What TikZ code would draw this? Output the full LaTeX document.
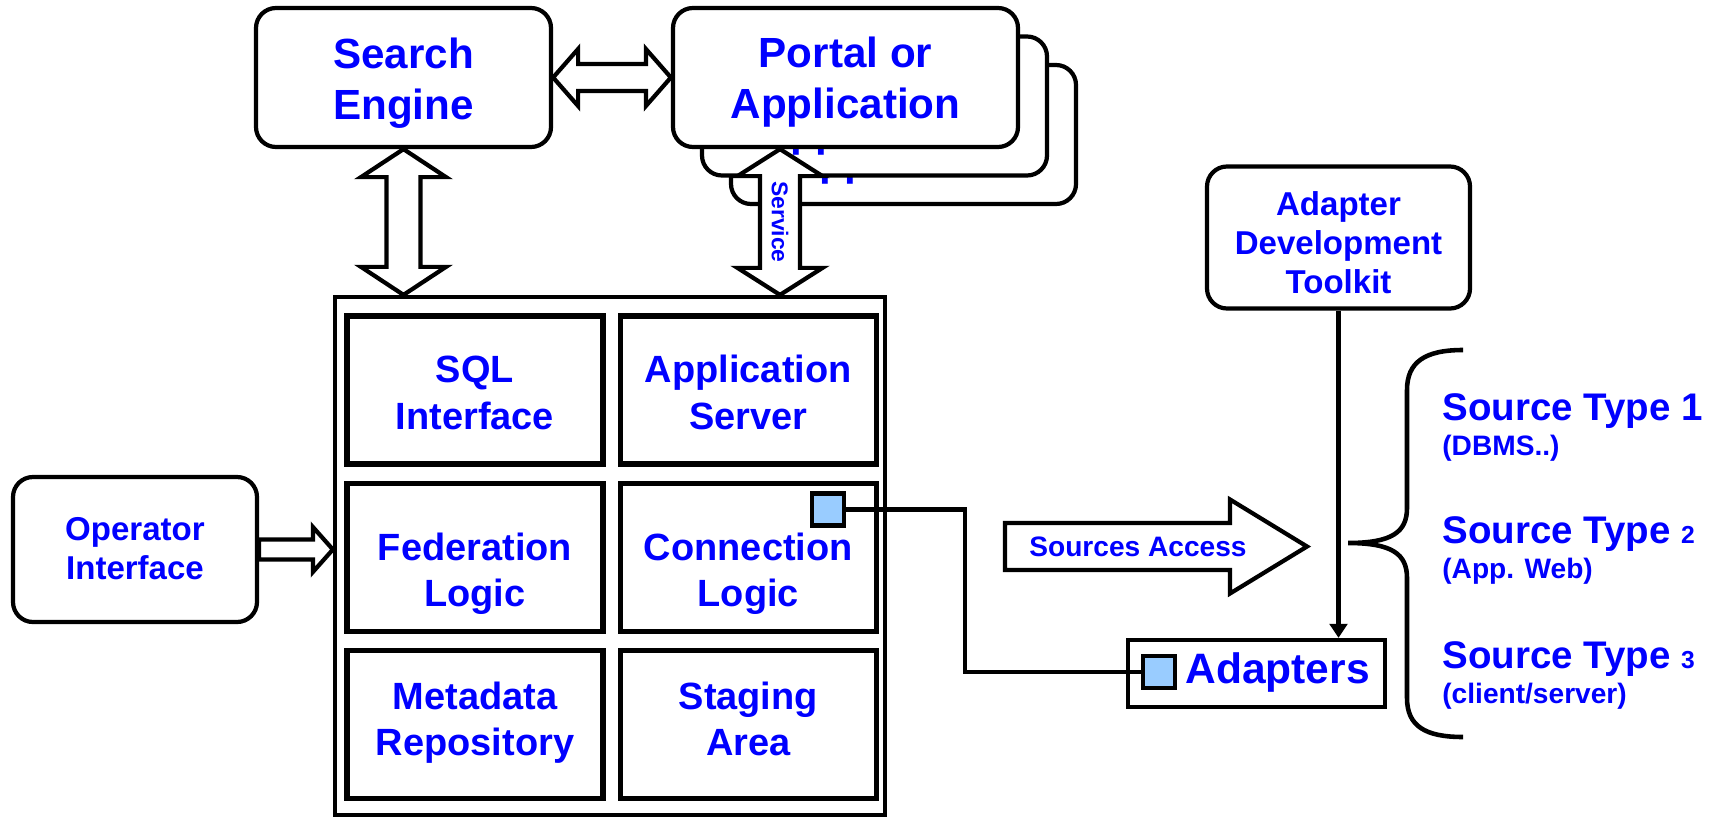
\documentclass[tikz,border=0pt]{standalone}
\usepackage{fontspec}
\setmainfont{Liberation Sans}
\usepackage{tikz}
\usetikzlibrary{
  positioning,
  calc,
  arrows.meta
}
\definecolor{labelblue}{RGB}{0,0,255}
\definecolor{portblue}{RGB}{153,204,255}

\newcommand{\boxfont}{\fontsize{24}{29}\selectfont\bfseries}
\newcommand{\cellfont}{\fontsize{21.6}{26.2}\selectfont\bfseries}
\newcommand{\smallboxfont}{\fontsize{18.8}{22.5}\selectfont\bfseries}
\newcommand{\kitfont}{\fontsize{18.8}{22.4}\selectfont\bfseries}
\newcommand{\adapterfont}{\fontsize{24.2}{29}\selectfont\bfseries}
\newcommand{\servicefont}{\fontsize{13}{15}\selectfont\bfseries}
\newcommand{\notefont}{\fontsize{16}{19}\selectfont\bfseries}
\newcommand{\srcfont}{\fontsize{21.9}{26}\selectfont\bfseries}

\tikzstyle{lastline}=[text height=#1, text depth=0pt]
\tikzstyle{roundbox}=[draw, line width=2.4pt, rounded corners=0.4cm, fill=white, inner sep=0pt, align=center, text=labelblue]
\tikzstyle{cell}=[draw, line width=3pt, minimum width=5.12cm, minimum height=2.96cm, inner sep=0pt, align=center, text=labelblue, font=\cellfont, lastline=44.4pt]
\tikzstyle{blockarrow}=[draw, line width=2.4pt, fill=white, line join=miter]
\tikzstyle{port}=[draw, line width=2.4pt, fill=portblue, minimum size=0.64cm, inner sep=0pt]
\tikzstyle{link}=[line width=2.6pt]
\tikzstyle{srctext}=[anchor=base west, inner sep=0pt, text=labelblue]

% 縦の両矢印 (上の先端, 下の先端, 軸の半幅, 頭の半幅, 頭の長さ)
\newcommand{\vdoublearrow}[5]{%
  \draw[blockarrow] (#1) -- ([shift={(#4,#5)}]#1) -- ([shift={(#3,#5)}]#1)
    -- ([shift={(#3,-#5)}]#2) -- ([shift={(#4,-#5)}]#2) -- (#2)
    -- ([shift={(-#4,-#5)}]#2) -- ([shift={(-#3,-#5)}]#2)
    -- ([shift={(-#3,#5)}]#1) -- ([shift={(-#4,#5)}]#1) -- cycle;}
% 横の両矢印 (左の先端, 右の先端, 軸の半幅, 頭の半幅, 頭の長さ)
\newcommand{\hdoublearrow}[5]{%
  \draw[blockarrow] (#1) -- ([shift={(#5,-#4)}]#1) -- ([shift={(#5,-#3)}]#1)
    -- ([shift={(-#5,-#3)}]#2) -- ([shift={(-#5,-#4)}]#2) -- (#2)
    -- ([shift={(-#5,#4)}]#2) -- ([shift={(-#5,#3)}]#2)
    -- ([shift={(#5,#3)}]#1) -- ([shift={(#5,#4)}]#1) -- cycle;}
% 右向きの矢印 (根元, 先端, 軸の半幅, 頭の半幅, 頭の長さ)
\newcommand{\rightblockarrow}[5]{%
  \draw[blockarrow] ([shift={(0,-#3)}]#1) -- ([shift={(-#5,-#3)}]#2)
    -- ([shift={(-#5,-#4)}]#2) -- (#2) -- ([shift={(-#5,#4)}]#2)
    -- ([shift={(-#5,#3)}]#2) -- ([shift={(0,#3)}]#1) -- cycle;}

\begin{document}
\begin{tikzpicture}[x=0.2mm, y=-0.2mm]
    \useasboundingbox (0,0) rectangle (1713,818);

    % 検索エンジン
    \node[roundbox, minimum width=5.9cm, minimum height=2.78cm, font=\boxfont, lastline=48pt] (search) at (403.5,77.5) {Search\\Engine};

    % ポータル (重ねた3枚)
    \coordinate (portalpos) at (845.5,77.5);
    \foreach \k in {2,1}
      \node[roundbox, minimum width=6.9cm, minimum height=2.78cm, font=\boxfont, lastline=46.5pt] (portal\k) at ([shift={({29*\k},{28.5*\k})}]portalpos) {Portal or\\Application};
    \node[roundbox, minimum width=6.9cm, minimum height=2.78cm, font=\boxfont, lastline=46.5pt] (portal) at (portalpos) {Portal or\\Application};

    % 本体の枠
    \node[draw, line width=2.4pt, minimum width=11cm, minimum height=10.36cm, inner sep=0pt] (main) at (610,556) {};

    % 内部のセル
    \node[cell] (sql) at (475,390) {SQL\\Interface};
    \node[cell, right=0.24cm of sql] (appsrv) {Application\\Server};
    \node[cell, below=0.28cm of sql, lastline=55.5pt] (fed) {Federation\\Logic};
    \node[cell, right=0.24cm of fed, lastline=55.5pt] (conn) {Connection\\Logic};
    \node[cell, below=0.28cm of fed, lastline=35pt] (meta) {Metadata\\Repository};
    \node[cell, right=0.24cm of meta, lastline=35pt] (stage) {Staging\\Area};

    % 検索エンジンとポータルの矢印
    \hdoublearrow{search.east}{portal.west}{13.5}{28.5}{25}
    \coordinate (setip) at (search.south |- main.north);
    \vdoublearrow{search.south}{setip}{17}{42.5}{28}
    \coordinate (svctop) at ([shift={(-65.5,0)}]portal.south);
    \coordinate (svcbot) at (svctop |- main.north);
    \vdoublearrow{svctop}{svcbot}{20}{42.5}{27}
    \node[rotate=-90, font=\servicefont, text=labelblue, inner sep=0pt] (svclabel) at ($(svctop)!0.5!(svcbot)$) {Service};

    % オペレータ
    \node[roundbox, minimum width=4.88cm, minimum height=2.9cm, font=\smallboxfont, lastline=34.7pt] (operator) at (135,549.5) {Operator\\Interface};
    \coordinate (optip) at (operator.east -| main.west);
    \rightblockarrow{operator.east}{optip}{10}{22.5}{20}

    % アダプタ
    \node[roundbox, minimum width=5.26cm, minimum height=2.84cm, font=\kitfont, lastline=64pt] (toolkit) at (1338.5,237.5) {Adapter\\Development\\Toolkit};
    \node[draw, line width=2.4pt, minimum width=5.14cm, minimum height=1.34cm, inner sep=0pt] (adapters) at (1256.5,673.5) {};
    \node[port] (adaport) at (1159,672) {};
    \node[font=\adapterfont, text=labelblue, inner sep=0pt, right=0.16cm of adaport] (adaptertext) {Adapters};
    \coordinate (adatip) at (toolkit.south |- adapters.north);
    \draw[link, -{Triangle[width=10pt, length=8pt]}] (toolkit.south) -- (adatip);

    % 接続線
    \node[port] (connport) at (828,509.5) {};
    \coordinate (bend) at ([shift={(119,0)}]connport.east);
    \draw[link] (connport.east) -- (bend) |- (adaport.west);

    % ソースへのアクセス
    \coordinate (acctail) at (1005,546.5);
    \coordinate (acctip) at (1307,546.5);
    \rightblockarrow{acctail}{acctip}{23.5}{47}{77}
    \node[font=\notefont, text=labelblue, inner sep=0pt] (acclabel) at (1138,547) {Sources Access};

    % 中括弧
    \draw[link] (1463,350) .. controls (1425,350) and (1407,362) .. (1407,390) -- (1407,508)
      .. controls (1407,532) and (1392,543) .. (1348,543)
      .. controls (1392,543) and (1407,554) .. (1407,578) -- (1407,698)
      .. controls (1407,726) and (1425,737) .. (1463,737);

    % ソースの種類
    \node[srctext, font=\srcfont] (src1) at (1442,420) {Source Type 1};
    \node[srctext, font=\notefont] (src1note) at (1442,455) {(DBMS..)};
    \node[srctext, font=\srcfont] (src2) at (1442,543) {Source Type {\fontsize{14}{14}\selectfont 2}};
    \node[srctext, font=\notefont] (src2note) at (1442,578) {(App. Web)};
    \node[srctext, font=\srcfont] (src3) at (1442,668) {Source Type {\fontsize{14}{14}\selectfont 3}};
    \node[srctext, font=\notefont] (src3note) at (1442,703) {(client/server)};
\end{tikzpicture}
\end{document}
